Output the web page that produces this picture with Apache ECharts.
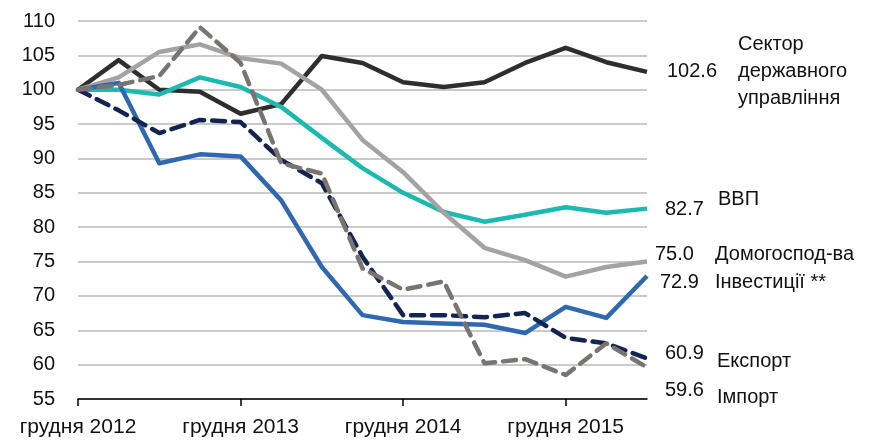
<!DOCTYPE html>
<html>
<head>
<meta charset="utf-8">
<script src="https://cdn.jsdelivr.net/npm/echarts@6/dist/echarts.min.js"></script>
<style>
  html, body { margin: 0; padding: 0; background: #fff; }
  #chart { width: 883px; height: 441px; }
</style>
</head>
<body>
<div id="chart"></div>
<script>
// квартали: грудень 2012 ... червень 2016
const categories = [
  'грудня 2012', 'березня 2013', 'червня 2013', 'вересня 2013',
  'грудня 2013', 'березня 2014', 'червня 2014', 'вересня 2014',
  'грудня 2014', 'березня 2015', 'червня 2015', 'вересня 2015',
  'грудня 2015', 'березня 2016', 'червня 2016'
]
const yTicks = [55, 60, 65, 70, 75, 80, 85, 90, 95, 100, 105, 110]

const gov = [100, 104.3, 100, 99.7, 96.5, 97.9, 104.9, 103.9, 101.1, 100.4, 101.1, 103.9, 106.1, 104.0, 102.6]
const gdp = [100, 100, 99.3, 101.8, 100.4, 97.5, 93.0, 88.6, 85.0, 82.2, 80.8, 81.8, 82.9, 82.1, 82.7]
const households = [100, 101.8, 105.5, 106.6, 104.6, 103.8, 100, 92.7, 88.0, 82.1, 77.0, 75.2, 72.8, 74.2, 75.0]
const investment = [100, 101, 89.3, 90.6, 90.3, 83.9, 74.2, 67.2, 66.2, 66.0, 65.8, 64.6, 68.4, 66.8, 72.9]
const exports = [100, 97.0, 93.7, 95.6, 95.3, 89.8, 86.4, 75.7, 67.2, 67.2, 66.9, 67.5, 63.9, 63.1, 60.9]
const imports = [100, 100.7, 102, 109.1, 103.9, 89.3, 87.8, 74.0, 70.9, 72.1, 60.2, 60.8, 58.5, 63.1, 59.6]

const FONT = 'Liberation Sans'
const txt = {fontFamily: FONT, fontSize: 20, color: '#111'}

// лінія + підпис значення + назва серії праворуч
const mkSeries = (name, data, color, dashed, valOff, nameOff) => ({
  name,
  type: 'line',
  data,
  symbol: 'none',
  smooth: false,
  lineStyle: {
    color,
    width: 4.5,
    type: dashed ? [13, 8] : 'solid',
    cap: dashed ? 'round' : 'butt',
    join: 'round'
  },
  endLabel: {
    show: true,
    ...txt,
    formatter: p => p.value.toFixed(1),
    distance: valOff[0],
    offset: [0, valOff[1]]
  },
  markPoint: {
    symbol: 'circle',
    symbolSize: 0,
    silent: true,
    data: [{coord: [categories.length - 1, data[data.length - 1]]}],
    label: {
      show: true,
      ...txt,
      lineHeight: 27,
      position: nameOff,
      align: 'left',
      verticalAlign: 'middle',
      formatter: name
    }
  },
  animation: false
})

const chart = echarts.init(document.getElementById('chart'))
chart.setOption({
  animation: false,
  grid: {left: 78, right: 236, top: 21, bottom: 42},
  xAxis: {
    type: 'category',
    data: categories,
    boundaryGap: false,
    axisLine: {lineStyle: {color: '#000', width: 1.5}},
    axisTick: {show: true, interval: 3, length: 7, lineStyle: {color: '#000', width: 1.5}},
    axisLabel: {interval: 3, ...txt, fontSize: 21, margin: 18, hideOverlap: false}
  },
  yAxis: {
    type: 'value',
    min: yTicks[0],
    max: yTicks[yTicks.length - 1],
    interval: 5,
    axisLine: {show: false},
    axisTick: {show: false},
    axisLabel: {...txt, margin: 23},
    splitLine: {lineStyle: {color: '#c9cbcb', width: 2}}
  },
  series: [
    mkSeries('Сектор\nдержавного\nуправління', gov, '#2e2e2e', false, [20, 0], [91, 0]),
    mkSeries('ВВП', gdp, '#1cb9b1', false, [18, 1], [71, -9]),
    mkSeries('Домогоспод-ва', households, '#a3a3a3', false, [8, -7], [68, -7]),
    mkSeries('Інвестиції **', investment, '#2f68b1', false, [13, 7], [68, 7]),
    mkSeries('Експорт', exports, '#132451', true, [18, -5], [70, 3]),
    mkSeries('Імпорт', imports, '#7a7470', true, [18, 23], [70, 30])
  ]
})
</script>
</body>
</html>
